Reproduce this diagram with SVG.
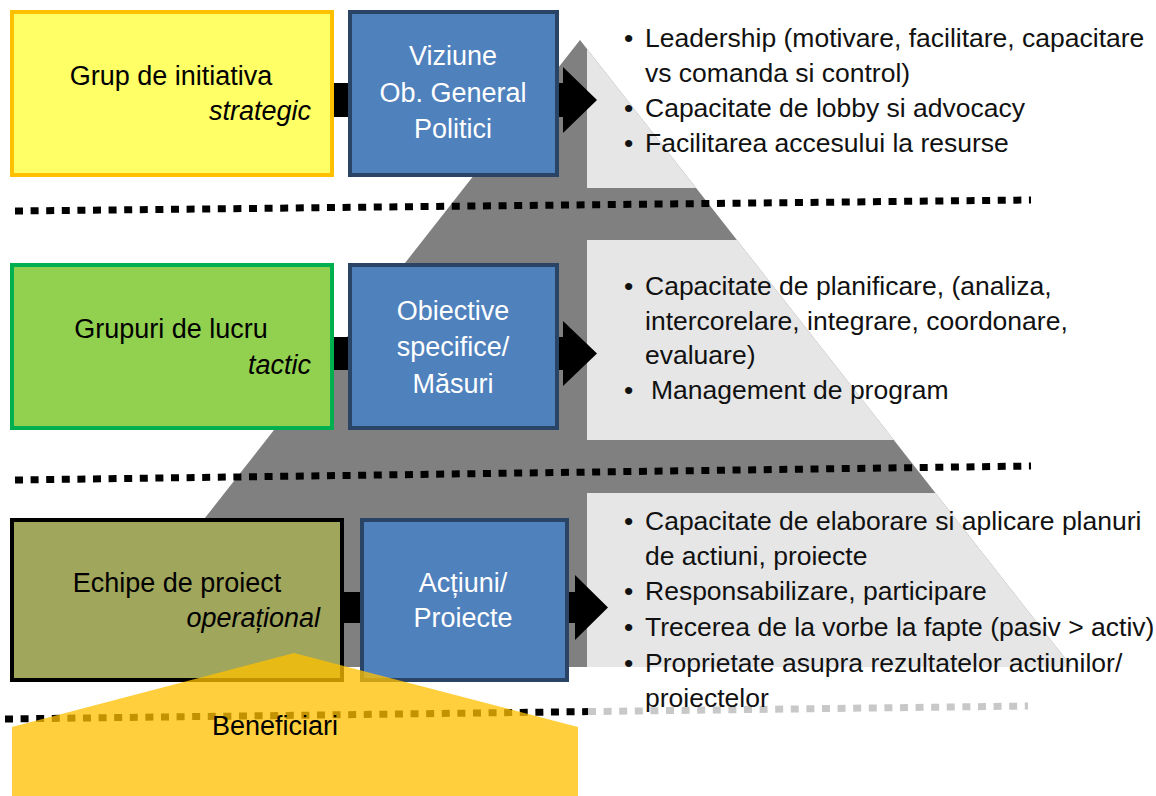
<svg xmlns="http://www.w3.org/2000/svg" width="1156" height="796" viewBox="0 0 1156 796">
<defs>
<clipPath id="pyr"><polygon points="580,40 88,667 1072,667"/></clipPath>
<style>
text{font-family:"Liberation Sans",Arial,sans-serif;}
.lbl{font-size:27px;fill:#000;}
.it{font-size:27px;fill:#000;font-style:italic;text-anchor:end;}
.wl{font-size:27px;fill:#fff;text-anchor:middle;}
.bt{font-size:26.5px;fill:#111;}
.blue{fill:#4F81BD;stroke:#2A4466;stroke-width:4;}
.dots{fill:none;stroke:#000;stroke-width:7;stroke-dasharray:8 7.6;}
</style>
</defs>
<rect width="1156" height="796" fill="#fff"/>
<g id="pyramid">
<polygon points="580,40 88,667 1072,667" fill="#808080"/>
<g clip-path="url(#pyr)" fill="#E6E6E6">
<rect x="587" y="30" width="520" height="158"/>
<rect x="587" y="240" width="520" height="200"/>
<rect x="587" y="493" width="520" height="174"/>
</g>
</g>
<g id="levels">
<line class="dots" x1="15" y1="211" x2="1031" y2="200"/>
<line class="dots" x1="15" y1="480" x2="1031" y2="466"/>
<line class="dots" x1="5" y1="719" x2="588" y2="711.6"/>
<line class="dots" x1="588" y1="711.6" x2="1028" y2="706" style="stroke:#C8C8C8"/>
</g>
<g id="connectors" fill="#000">
<rect x="320" y="83" width="30" height="34"/>
<rect x="320" y="337" width="30" height="33"/>
<rect x="330" y="592" width="32" height="31"/>
<polygon points="555,83 563,83 563,67 597,100 563,133 563,117 555,117"/>
<polygon points="555,337 563,337 563,321 597,353.5 563,386 563,370 555,370"/>
<polygon points="565,592 575,592 575,575 608,607.5 575,640 575,623 565,623"/>
</g>
<g id="grup-initiativa">
<rect x="12" y="12" width="320" height="163" fill="#FFFF66" stroke="#FFC000" stroke-width="4"/>
<text class="lbl" x="171" y="85" text-anchor="middle">Grup de initiativa</text>
<text class="it" x="311" y="120">strategic</text>
</g>
<g id="viziune">
<rect class="blue" x="350" y="12" width="207" height="163"/>
<text class="wl" x="453" y="65">Viziune</text>
<text class="wl" x="453" y="102">Ob. General</text>
<text class="wl" x="453" y="138">Politici</text>
</g>
<g id="grupuri-lucru">
<rect x="12" y="265" width="320" height="163" fill="#92D050" stroke="#00B050" stroke-width="4"/>
<text class="lbl" x="171" y="338" text-anchor="middle">Grupuri de lucru</text>
<text class="it" x="311" y="374">tactic</text>
</g>
<g id="obiective">
<rect class="blue" x="350" y="265" width="207" height="163"/>
<text class="wl" x="453" y="320">Obiective</text>
<text class="wl" x="453" y="356">specifice/</text>
<text class="wl" x="453" y="393">Măsuri</text>
</g>
<g id="echipe-proiect">
<rect x="12" y="520" width="330" height="160" fill="#A0A65B" stroke="#000" stroke-width="4"/>
<text class="lbl" x="177" y="592" text-anchor="middle">Echipe de proiect</text>
<text class="it" x="320" y="627">operațional</text>
</g>
<g id="actiuni">
<rect class="blue" x="362" y="520" width="205" height="160"/>
<text class="wl" x="463" y="592">Acțiuni/</text>
<text class="wl" x="463" y="627">Proiecte</text>
</g>
<g id="strategic-list" class="bt">
<text class="bt" x="624" y="47">•</text><text class="bt" x="645" y="47">Leadership (motivare, facilitare, capacitare</text>
<text class="bt" x="645" y="82">vs comanda si control)</text>
<text class="bt" x="624" y="117">•</text><text class="bt" x="645" y="117">Capacitate de lobby si advocacy</text>
<text class="bt" x="624" y="152">•</text><text class="bt" x="645" y="152">Facilitarea accesului la resurse</text>
</g>
<g id="tactic-list">
<text class="bt" x="624" y="295">•</text><text class="bt" x="645" y="295">Capacitate de planificare, (analiza,</text>
<text class="bt" x="645" y="330">intercorelare, integrare, coordonare,</text>
<text class="bt" x="645" y="364">evaluare)</text>
<text class="bt" x="624" y="399">•</text><text class="bt" x="651" y="399">Management de program</text>
</g>
<g id="operational-list">
<text class="bt" x="624" y="530">•</text><text class="bt" x="645" y="530">Capacitate de elaborare si aplicare planuri</text>
<text class="bt" x="645" y="565">de actiuni, proiecte</text>
<text class="bt" x="624" y="600">•</text><text class="bt" x="645" y="600">Responsabilizare, participare</text>
<text class="bt" x="624" y="636">•</text><text class="bt" x="645" y="636">Trecerea de la vorbe la fapte (pasiv &gt; activ)</text>
<text class="bt" x="624" y="672">•</text><text class="bt" x="645" y="672">Proprietate asupra rezultatelor actiunilor/</text>
<text class="bt" x="645" y="707">proiectelor</text>
</g>
<g id="beneficiari">
<polygon points="294,653 578,727 578,796 12,796 12,727" fill="#FFC000" fill-opacity="0.76"/>
<text class="lbl" x="275" y="735" text-anchor="middle">Beneficiari</text>
</g>
</svg>
